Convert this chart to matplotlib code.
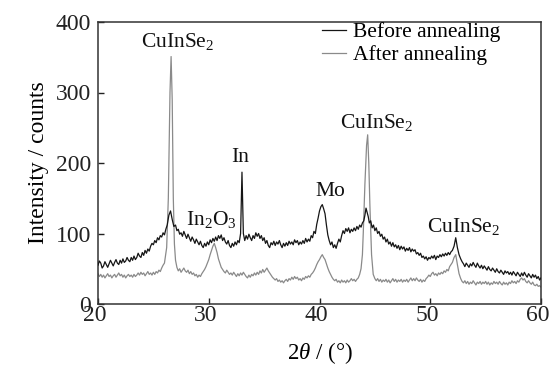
import matplotlib
matplotlib.use("Agg")
import matplotlib.pyplot as plt
import matplotlib.transforms as mtransforms

# ---- data: (2theta, intensity) ----
before_points = [
    (20.000, 55), (20.125, 61), (20.250, 58), (20.375, 51), (20.500, 54), (20.625, 60), (20.750, 56), (20.875, 52),
    (21.000, 57), (21.125, 62), (21.250, 58), (21.375, 54), (21.500, 59), (21.625, 63), (21.750, 58), (21.875, 56),
    (22.000, 62), (22.125, 58), (22.250, 64), (22.375, 59), (22.500, 61), (22.625, 66), (22.750, 62), (22.875, 60),
    (23.000, 66), (23.125, 62), (23.250, 68), (23.375, 63), (23.500, 66), (23.625, 72), (23.750, 68), (23.875, 66),
    (24.000, 73), (24.125, 69), (24.250, 76), (24.375, 72), (24.500, 78), (24.625, 75), (24.750, 82), (24.875, 86),
    (25.000, 84), (25.125, 90), (25.250, 87), (25.375, 94), (25.500, 91), (25.625, 97), (25.750, 95), (25.875, 101),
    (26.000, 98), (26.125, 106), (26.250, 112), (26.400, 126), (26.550, 132), (26.700, 120), (26.850, 110),
    (27.000, 112), (27.125, 104), (27.250, 106), (27.375, 99), (27.500, 101), (27.625, 96), (27.750, 103), (27.875, 98),
    (28.000, 93), (28.125, 99), (28.250, 94), (28.375, 89), (28.500, 95), (28.625, 91), (28.750, 86), (28.875, 92),
    (29.000, 88), (29.125, 84), (29.250, 89), (29.375, 83), (29.500, 80), (29.625, 86), (29.750, 82), (29.875, 88),
    (30.000, 84), (30.125, 91), (30.250, 87), (30.375, 93), (30.500, 89), (30.625, 95), (30.750, 90), (30.875, 97),
    (31.000, 93), (31.125, 98), (31.250, 90), (31.375, 94), (31.500, 88), (31.625, 85), (31.750, 90), (31.875, 83),
    (32.000, 80), (32.125, 86), (32.250, 82), (32.375, 88), (32.500, 84), (32.625, 90), (32.750, 87), (32.875, 100),
    (32.950, 150), (33.000, 187), (33.050, 150), (33.125, 100), (33.250, 90), (33.375, 97), (33.500, 92), (33.625, 99),
    (33.750, 94), (33.875, 90), (34.000, 97), (34.125, 93), (34.250, 101), (34.375, 96), (34.500, 100), (34.625, 93),
    (34.750, 97), (34.875, 90), (35.000, 94), (35.125, 86), (35.250, 90), (35.375, 83), (35.500, 80), (35.625, 87),
    (35.750, 84), (35.875, 89), (36.000, 83), (36.125, 88), (36.250, 85), (36.375, 90), (36.500, 84), (36.625, 80),
    (36.750, 86), (36.875, 82), (37.000, 87), (37.125, 83), (37.250, 89), (37.375, 85), (37.500, 88), (37.625, 84),
    (37.750, 91), (37.875, 87), (38.000, 90), (38.125, 84), (38.250, 88), (38.375, 85), (38.500, 90), (38.625, 86),
    (38.750, 93), (38.875, 88), (39.000, 92), (39.125, 89), (39.250, 97), (39.375, 94), (39.500, 103), (39.625, 100),
    (39.750, 113), (39.875, 122), (40.000, 132), (40.125, 138), (40.250, 141), (40.375, 135), (40.500, 128), (40.625, 112),
    (40.750, 98), (40.875, 90), (41.000, 84), (41.125, 88), (41.250, 80), (41.375, 84), (41.500, 79), (41.625, 86),
    (41.750, 92), (41.875, 88), (42.000, 97), (42.125, 104), (42.250, 100), (42.375, 107), (42.500, 103), (42.625, 108),
    (42.750, 101), (42.875, 106), (43.000, 103), (43.125, 108), (43.250, 104), (43.375, 110), (43.500, 106), (43.625, 112),
    (43.750, 109), (43.875, 115), (44.000, 118), (44.100, 126), (44.200, 136), (44.300, 130), (44.400, 124), (44.500, 115),
    (44.625, 118), (44.750, 108), (44.875, 112), (45.000, 104), (45.125, 108), (45.250, 100), (45.375, 103), (45.500, 96),
    (45.625, 99), (45.750, 92), (45.875, 95), (46.000, 88), (46.125, 92), (46.250, 85), (46.375, 88), (46.500, 82),
    (46.625, 87), (46.750, 81), (46.875, 84), (47.000, 79), (47.125, 83), (47.250, 77), (47.375, 82), (47.500, 78),
    (47.625, 81), (47.750, 75), (47.875, 79), (48.000, 76), (48.125, 80), (48.250, 74), (48.375, 78), (48.500, 75),
    (48.625, 77), (48.750, 71), (48.875, 73), (49.000, 69), (49.125, 72), (49.250, 66), (49.375, 68), (49.500, 64),
    (49.625, 67), (49.750, 62), (49.875, 66), (50.000, 64), (50.125, 68), (50.250, 65), (50.375, 69), (50.500, 63),
    (50.625, 68), (50.750, 66), (50.875, 70), (51.000, 67), (51.125, 71), (51.250, 68), (51.375, 72), (51.500, 69),
    (51.625, 73), (51.750, 70), (51.875, 74), (52.000, 76), (52.150, 82), (52.300, 94), (52.450, 80), (52.600, 70),
    (52.750, 64), (52.875, 60), (53.000, 57), (53.125, 53), (53.250, 58), (53.375, 55), (53.500, 52), (53.625, 57),
    (53.750, 54), (53.875, 59), (54.000, 55), (54.125, 52), (54.250, 58), (54.375, 54), (54.500, 51), (54.625, 55),
    (54.750, 50), (54.875, 54), (55.000, 51), (55.125, 48), (55.250, 53), (55.375, 49), (55.500, 47), (55.625, 51),
    (55.750, 48), (55.875, 45), (56.000, 50), (56.125, 46), (56.250, 44), (56.375, 48), (56.500, 45), (56.625, 42),
    (56.750, 47), (56.875, 44), (57.000, 46), (57.125, 42), (57.250, 45), (57.375, 41), (57.500, 46), (57.625, 43),
    (57.750, 40), (57.875, 45), (58.000, 42), (58.125, 39), (58.250, 44), (58.375, 40), (58.500, 45), (58.625, 41),
    (58.750, 38), (58.875, 43), (59.000, 40), (59.125, 37), (59.250, 42), (59.375, 38), (59.500, 41), (59.625, 36),
    (59.750, 39), (59.875, 34), (60.000, 37),
]

after_points = [
    (20.000, 43), (20.125, 39), (20.250, 42), (20.375, 38), (20.500, 41), (20.625, 37), (20.750, 40), (20.875, 43),
    (21.000, 39), (21.125, 41), (21.250, 37), (21.375, 40), (21.500, 42), (21.625, 38), (21.750, 41), (21.875, 44),
    (22.000, 40), (22.125, 42), (22.250, 38), (22.375, 41), (22.500, 37), (22.625, 40), (22.750, 42), (22.875, 39),
    (23.000, 41), (23.125, 38), (23.250, 42), (23.375, 39), (23.500, 41), (23.625, 44), (23.750, 41), (23.875, 45),
    (24.000, 42), (24.125, 44), (24.250, 40), (24.375, 43), (24.500, 46), (24.625, 42), (24.750, 44), (24.875, 41),
    (25.000, 45), (25.125, 42), (25.250, 46), (25.375, 44), (25.500, 48), (25.625, 46), (25.750, 51), (25.875, 55),
    (26.000, 58), (26.200, 80), (26.350, 150), (26.500, 300), (26.600, 351), (26.700, 290), (26.800, 150), (26.900, 85),
    (27.000, 62), (27.125, 52), (27.250, 47), (27.375, 50), (27.500, 45), (27.625, 48), (27.750, 51), (27.875, 47),
    (28.000, 45), (28.125, 48), (28.250, 43), (28.375, 46), (28.500, 42), (28.625, 44), (28.750, 40), (28.875, 42),
    (29.000, 38), (29.125, 41), (29.250, 39), (29.375, 43), (29.500, 46), (29.625, 49), (29.750, 53), (29.875, 58),
    (30.000, 63), (30.125, 70), (30.250, 76), (30.375, 82), (30.500, 86), (30.625, 80), (30.750, 73), (30.875, 64),
    (31.000, 58), (31.125, 52), (31.250, 49), (31.375, 46), (31.500, 44), (31.625, 48), (31.750, 45), (31.875, 42),
    (32.000, 44), (32.125, 41), (32.250, 45), (32.375, 42), (32.500, 39), (32.625, 43), (32.750, 40), (32.875, 44),
    (33.000, 41), (33.125, 45), (33.250, 42), (33.375, 39), (33.500, 37), (33.625, 41), (33.750, 38), (33.875, 42),
    (34.000, 40), (34.125, 44), (34.250, 41), (34.375, 45), (34.500, 42), (34.625, 47), (34.750, 44), (34.875, 49),
    (35.000, 45), (35.125, 48), (35.250, 51), (35.375, 47), (35.500, 44), (35.625, 41), (35.750, 38), (35.875, 36),
    (36.000, 34), (36.125, 36), (36.250, 32), (36.375, 34), (36.500, 31), (36.625, 33), (36.750, 30), (36.875, 33),
    (37.000, 35), (37.125, 32), (37.250, 36), (37.375, 34), (37.500, 38), (37.625, 35), (37.750, 39), (37.875, 36),
    (38.000, 38), (38.125, 34), (38.250, 36), (38.375, 33), (38.500, 37), (38.625, 35), (38.750, 39), (38.875, 37),
    (39.000, 40), (39.125, 38), (39.250, 42), (39.375, 44), (39.500, 47), (39.625, 51), (39.750, 56), (39.875, 60),
    (40.000, 63), (40.125, 67), (40.250, 70), (40.375, 66), (40.500, 63), (40.625, 57), (40.750, 51), (40.875, 46),
    (41.000, 42), (41.125, 38), (41.250, 35), (41.375, 33), (41.500, 35), (41.625, 31), (41.750, 33), (41.875, 30),
    (42.000, 34), (42.125, 31), (42.250, 33), (42.375, 30), (42.500, 34), (42.625, 31), (42.750, 33), (42.875, 36),
    (43.000, 33), (43.125, 35), (43.250, 32), (43.375, 35), (43.500, 37), (43.625, 42), (43.750, 50), (43.875, 70),
    (43.950, 100), (44.100, 170), (44.250, 225), (44.350, 240), (44.450, 200), (44.550, 140), (44.700, 70), (44.850, 42),
    (45.000, 36), (45.125, 33), (45.250, 36), (45.375, 32), (45.500, 35), (45.625, 31), (45.750, 34), (45.875, 32),
    (46.000, 35), (46.125, 31), (46.250, 34), (46.375, 30), (46.500, 33), (46.625, 36), (46.750, 32), (46.875, 35),
    (47.000, 31), (47.125, 34), (47.250, 32), (47.375, 35), (47.500, 31), (47.625, 34), (47.750, 32), (47.875, 35),
    (48.000, 31), (48.125, 34), (48.250, 37), (48.375, 33), (48.500, 36), (48.625, 33), (48.750, 37), (48.875, 34),
    (49.000, 32), (49.125, 35), (49.250, 31), (49.375, 34), (49.500, 32), (49.625, 36), (49.750, 38), (49.875, 41),
    (50.000, 39), (50.125, 43), (50.250, 45), (50.375, 41), (50.500, 43), (50.625, 40), (50.750, 44), (50.875, 42),
    (51.000, 45), (51.125, 43), (51.250, 47), (51.375, 45), (51.500, 49), (51.625, 47), (51.750, 53), (51.875, 56),
    (52.000, 59), (52.150, 66), (52.300, 70), (52.450, 56), (52.600, 43), (52.750, 36), (52.875, 32), (53.000, 30),
    (53.125, 33), (53.250, 29), (53.375, 32), (53.500, 28), (53.625, 31), (53.750, 29), (53.875, 33), (54.000, 30),
    (54.125, 27), (54.250, 31), (54.375, 29), (54.500, 32), (54.625, 28), (54.750, 31), (54.875, 29), (55.000, 32),
    (55.125, 28), (55.250, 31), (55.375, 27), (55.500, 30), (55.625, 28), (55.750, 32), (55.875, 29), (56.000, 31),
    (56.125, 28), (56.250, 32), (56.375, 29), (56.500, 27), (56.625, 31), (56.750, 28), (56.875, 30), (57.000, 27),
    (57.125, 31), (57.250, 29), (57.375, 33), (57.500, 30), (57.625, 32), (57.750, 29), (57.875, 33), (58.000, 31),
    (58.125, 35), (58.250, 37), (58.375, 34), (58.500, 36), (58.625, 32), (58.750, 30), (58.875, 33), (59.000, 30),
    (59.125, 28), (59.250, 31), (59.375, 27), (59.500, 26), (59.625, 28), (59.750, 25), (59.875, 26), (60.000, 24),
]

before_x = [p[0] for p in before_points]
before_y = [p[1] for p in before_points]
after_x = [p[0] for p in after_points]
after_y = [p[1] for p in after_points]

series_labels = ["Before annealing", "After annealing"]
peak_labels = ["CuInSe$_2$", "In$_2$O$_3$", "In", "Mo", "CuInSe$_2$", "CuInSe$_2$"]
peak_label_x = [27.2, 30.2, 32.8, 41.0, 45.2, 53.0]
peak_label_y = [373, 120, 208, 159, 257, 110]
x_ticks = [20, 30, 40, 50, 60]
y_ticks = [0, 100, 200, 300, 400]

# ---- style ----
plt.rcParams["font.family"] = ["Liberation Serif", "DejaVu Serif"]
plt.rcParams["mathtext.fontset"] = "custom"
plt.rcParams["mathtext.rm"] = "Liberation Serif"
plt.rcParams["mathtext.it"] = "Liberation Serif:italic"
FS = 15.5
TICK_FS = 17

fig = plt.figure(figsize=(5.5, 3.73), dpi=100)
ax = fig.add_axes([98 / 550, 1 - 304 / 373, 443 / 550, 282 / 373])

ax.plot(before_x, before_y, color="#151515", lw=0.9, label=series_labels[0], zorder=3)
ax.plot(after_x, after_y, color="#8a8a8a", lw=0.9, label=series_labels[1], zorder=2)

for t, xx, yy in zip(peak_labels, peak_label_x, peak_label_y):
    ax.text(xx, yy, t, ha="center", va="center", fontsize=FS, color="#111111")

ax.set_xlim(20, 60)
ax.set_ylim(0, 400)
ax.set_xticks(x_ticks)
ax.set_yticks(y_ticks)
ax.tick_params(axis="both", direction="in", length=4, width=1.0, labelsize=TICK_FS,
               colors="#222222")
ax.tick_params(axis="x", pad=1)
ax.tick_params(axis="y", pad=5)
for s in ax.spines.values():
    s.set_linewidth(1.1)
    s.set_color("#333333")

# shift x tick labels slightly left, as in the reference
shift = mtransforms.ScaledTranslation(-3 / 100, 0, fig.dpi_scale_trans)
for lbl in ax.get_xticklabels():
    lbl.set_transform(lbl.get_transform() + shift)

ax.set_xlabel(r"2$\theta$ / (°)", fontsize=16.5, labelpad=10)
ax.set_ylabel("Intensity / counts", fontsize=17, labelpad=5)

leg = ax.legend(loc="upper left", bbox_to_anchor=(0.505, 1.0), frameon=False,
                fontsize=FS, handlelength=1.15, handletextpad=0.3, labelspacing=0.15,
                borderpad=0.0, borderaxespad=0.0)

fig.savefig("out.png", dpi=100)
